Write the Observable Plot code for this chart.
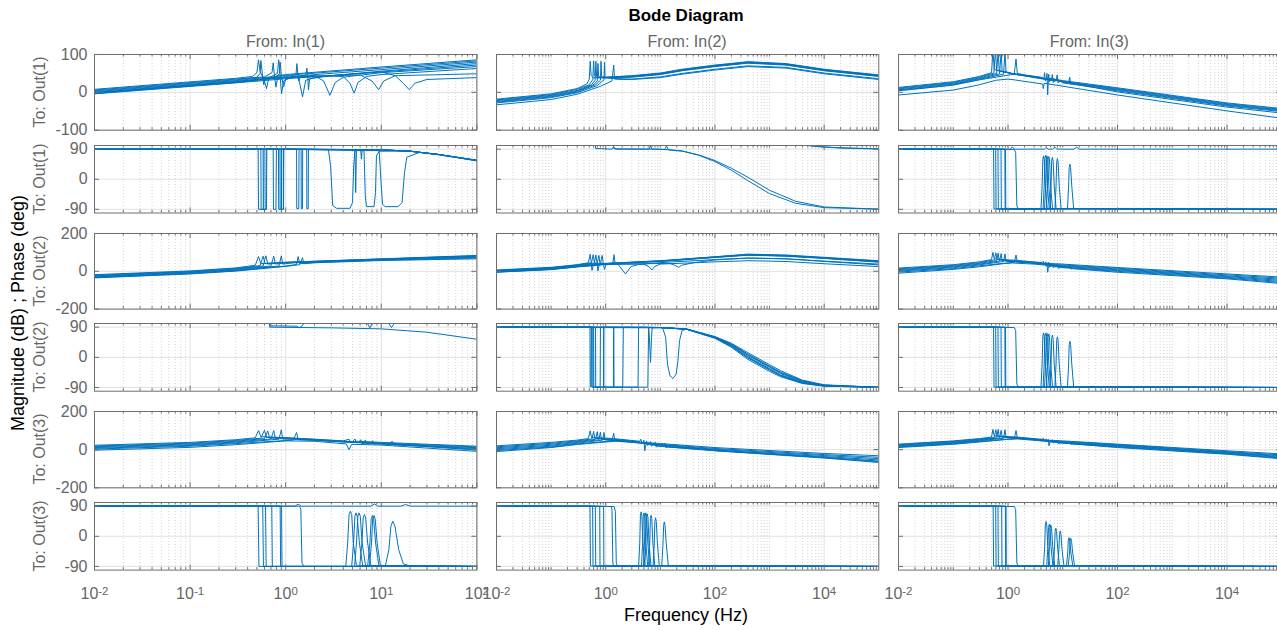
<!DOCTYPE html>
<html><head><meta charset="utf-8">
<script src="https://cdn.jsdelivr.net/npm/d3@7"></script>
<script src="https://cdn.jsdelivr.net/npm/@observablehq/plot@0.6"></script>
<style>
html,body{margin:0;padding:0;background:#fff;overflow:hidden;}
#fig{position:relative;width:1277px;height:630px;overflow:hidden;font-family:"Liberation Sans",Arial,Helvetica,sans-serif;}
.t{position:absolute;white-space:nowrap;line-height:1;}
</style></head><body><div id="fig"></div>
<script>
// ---------- text ----------
const title = "Bode Diagram";
const xLabel = "Frequency  (Hz)";
const yLabel = "Magnitude (dB) ; Phase (deg)";
const colLabels = ["From: In(1)", "From: In(2)", "From: In(3)"];
const rowLabels = ["To: Out(1)", "To: Out(1)", "To: Out(2)", "To: Out(2)", "To: Out(3)", "To: Out(3)"];
// ---------- ticks ----------
const magTicks1 = [-100, 0, 100];
const magTicks = [-200, 0, 200];
const phaseTicks = [-90, 0, 90];
const xTickValues1 = [0.01, 0.1, 1, 10, 100];
const xTickLabels1 = ["10^-2", "10^-1", "10^0", "10^1", "10^2"];
const xTickValues2 = [0.01, 1, 100, 10000];
const xTickLabels2 = ["10^-2", "10^0", "10^2", "10^4"];

// ---------- data: each curve is [f0,v0,f1,v1,...] (Hz, dB or deg) ----------
const mag_1_1 = [
[0.01,8, 0.3,37, 0.45,42, 0.5,52, 0.52,86, 0.54,55, 0.6,30, 0.63,10, 0.66,34, 0.8,43, 1,47, 10,67, 100,86],
[0.01,6, 0.3,35, 0.5,40, 0.54,50, 0.55,84, 0.57,50, 0.59,20, 0.61,38, 1,45, 10,64, 100,83],
[0.01,4, 0.3,33, 0.6,41, 0.72,52, 0.74,78, 0.76,48, 0.79,14, 0.82,36, 1,42, 1.28,46, 1.31,76, 1.34,46, 1.37,30, 1.42,44, 10,60, 100,80],
[0.01,2, 0.3,31, 0.7,41, 0.82,50, 0.845,86, 0.87,50, 0.905,-4, 0.95,30, 1.2,42, 1.62,45, 1.665,64, 1.7,44, 1.73,6, 1.78,36, 3,44, 10,56, 100,76],
[0.01,0, 0.3,29, 0.8,40, 0.86,50, 0.875,80, 0.9,46, 0.95,14, 1,36, 1.35,44, 1.5,-12, 1.62,32, 2.2,42, 10,54, 100,72],
[0.01,-1, 0.3,28, 0.8,39, 2,44, 2.5,30, 2.9,-8, 3.3,26, 4,40, 10,52, 100,68],
[0.01,-2, 0.3,27, 0.8,38, 2,44, 4,42, 4.7,24, 5.2,-2, 5.7,26, 7,42, 10,47, 100,63],
[0.01,-3, 0.3,26, 0.8,37, 2,42, 6,46, 8,30, 9.4,7, 10.6,30, 14,44, 100,49],
[0.01,-4, 0.3,25, 1,36, 3,44, 10,54, 14,44, 17,24, 19.6,7, 22.5,24, 30,34, 100,39]
];
const pha_1_1 = [
[0.01,90, 0.515,90, 0.52,-90, 0.62,-90, 0.625,90, 10,88, 20,84, 40,74, 100,56],
[0.01,90, 0.55,90, 0.553,-90, 0.59,-90, 0.595,90, 10,88, 20,84, 40,74, 100,56],
[0.01,90, 0.74,90, 0.745,-90, 0.79,-90, 0.8,90, 1.3,90, 1.305,-88, 1.37,-88, 1.38,90, 10,88, 20,84, 40,74, 100,57],
[0.01,90, 0.84,90, 0.845,-90, 0.905,-90, 0.91,90, 1.66,90, 1.665,-88, 1.72,-88, 1.73,90, 10,88, 20,84, 40,74, 100,57],
[0.01,90, 0.87,90, 0.875,-90, 0.945,-90, 0.95,90, 2.8,88, 2.95,40, 3.1,-78, 3.4,-87, 4.7,-87, 5.0,-70, 5.15,40, 5.3,86, 10,88, 20,84, 40,74, 100,56],
[0.01,90, 0.58,90, 0.583,-90, 0.63,-90, 0.635,90, 5.3,89, 5.4,-40, 5.5,89, 10,88, 20,84, 40,74, 100,56],
[0.01,90, 0.9,90, 0.903,-90, 0.95,-90, 0.955,90, 6.1,86, 6.2,60, 6.3,86, 6.6,85, 6.8,-50, 7.0,-82, 8.4,-82, 8.7,-40, 8.9,70, 9.5,84, 20,84, 40,74, 100,56],
[0.01,90, 1.45,90, 1.455,-88, 1.5,-88, 1.505,90, 9.5,86, 9.9,0, 10.3,-75, 11,-82, 15,-82, 16.5,-70, 17.5,20, 18.5,66, 25,80, 40,73, 100,55]
];
const mag_1_2 = [
[0.01,-18, 0.1,-4, 0.3,10, 0.45,22, 0.5,35, 0.52,82, 0.54,45, 0.6,38, 1,40, 3,44, 10,51, 25,61, 100,72, 400,81, 2000,76, 10000,61, 100000,46],
[0.01,-20, 0.1,-6, 0.3,8, 0.5,20, 0.58,34, 0.6,83, 0.62,44, 0.7,38, 1,40, 3,43, 10,50, 25,60, 100,71, 400,80, 2000,75, 10000,60, 100000,45],
[0.01,-22, 0.1,-8, 0.3,5, 0.55,20, 0.64,32, 0.66,82, 0.68,42, 0.8,38, 1,39, 3,42, 10,49, 25,59, 100,70, 400,79, 2000,74, 10000,59, 100000,44],
[0.01,-24, 0.1,-10, 0.3,3, 0.6,20, 0.7,30, 0.72,76, 0.74,42, 0.9,38, 3,41, 10,48, 25,58, 100,69, 400,78, 2000,73, 10000,58, 100000,43],
[0.01,-26, 0.1,-12, 0.3,1, 0.65,20, 0.8,32, 0.82,82, 0.84,42, 1,38, 3,40, 10,47, 25,57, 100,68, 400,77, 2000,72, 10000,57, 100000,42],
[0.01,-28, 0.1,-14, 0.3,-1, 0.7,18, 0.93,33, 0.95,80, 0.97,40, 1.2,37, 3,35, 10,41, 25,50, 100,61, 400,70, 2000,66, 10000,51, 100000,36],
[0.01,-33, 0.1,-19, 0.3,-5, 0.8,16, 1.3,30, 1.4,72, 1.45,35, 2,34, 3,34, 10,39, 25,48, 100,59, 400,68, 2000,64, 10000,49, 100000,34]
];
const pha_1_2 = [
[0.01,180, 0.645,180, 0.65,92, 1,91, 1.3,90, 1.4,97, 1.5,90, 6.2,90, 6.6,100, 7,90, 12,89, 13,100, 14,88, 25,84, 50,73, 100,56, 200,33, 400,6, 1000,-33, 3000,-66, 10000,-83, 100000,-89.5],
[0.01,180, 1.35,180, 1.4,92, 1.6,91, 10,90, 25,85, 50,72, 100,53, 200,27, 400,-4, 1000,-43, 3000,-72, 10000,-85, 100000,-89.5],
[0.01,200, 4500,200, 4800,101, 10000,96, 100000,91],
[0.01,200, 5500,200, 6000,100, 20000,93, 100000,90.5]
];
const mag_1_3 = [
[0.01,13, 0.1,28, 0.3,42, 0.5,52, 0.53,110, 0.56,60, 0.8,55, 1.2,50, 4,40, 4.5,36, 4.65,52, 4.8,30, 5.2,38, 10,31, 100,12, 10000,-28, 120000,-44],
[0.01,11, 0.1,26, 0.3,40, 0.55,51, 0.59,110, 0.62,58, 0.9,54, 1.2,49, 4,39, 5.0,35, 5.15,50, 5.3,-7, 5.45,30, 6,37, 10,29, 100,10, 10000,-30, 120000,-46],
[0.01,9, 0.1,24, 0.3,38, 0.62,50, 0.66,110, 0.69,56, 1,52, 1.3,48, 4,38, 5.4,34, 5.55,48, 5.7,28, 6.2,35, 10,28, 100,8, 10000,-32, 120000,-48],
[0.01,7, 0.1,22, 0.3,36, 0.7,49, 0.75,108, 0.78,55, 1.1,50, 4,37, 6.2,32, 6.45,47, 6.7,26, 7.3,33, 10,27, 100,6, 10000,-34, 120000,-50],
[0.01,5, 0.1,20, 0.3,34, 0.83,48, 0.88,106, 0.92,54, 1.3,48, 4,36, 7.6,30, 7.9,46, 8.2,25, 9,30, 10,25, 100,4, 10000,-36, 120000,-52],
[0.01,4, 0.1,19, 0.3,33, 1.3,48, 1.4,88, 1.48,50, 2,46, 5,36, 12.8,26, 13.4,40, 14,22, 15,24, 100,1, 10000,-39, 120000,-56],
[0.01,-7, 0.1,6, 0.3,20, 0.6,32, 1,35, 1.3,33, 4.3,22, 4.4,10, 4.6,24, 100,-7, 10000,-49, 120000,-70]
];
const pha_1_3 = [
[0.01,90, 0.545,90, 0.555,-89, 4.0,-89, 4.2,-20, 4.32,60, 4.45,70, 4.58,60, 4.8,-20, 5.2,-88, 120000,-90],
[0.01,90, 0.595,90, 0.605,-89, 4.37,-89, 4.58,-20, 4.7,62, 4.85,72, 5.0,62, 5.23,-20, 5.66,-88, 120000,-90],
[0.01,90, 0.655,90, 0.665,-89, 4.64,-89, 4.87,-20, 5.0,60, 5.15,70, 5.3,60, 5.56,-20, 6.0,-88, 120000,-90],
[0.01,90, 0.745,90, 0.755,-89, 5.0,-89, 5.25,-20, 5.39,58, 5.56,68, 5.72,58, 6.0,-20, 6.5,-88, 120000,-90],
[0.01,90, 0.875,90, 0.885,-89, 5.82,-89, 6.11,-20, 6.27,55, 6.46,65, 6.66,55, 6.98,-20, 7.55,-88, 120000,-90],
[0.01,90, 1.3,89, 1.38,80, 1.45,-80, 1.55,-89, 7.19,-89, 7.54,-20, 7.74,52, 7.98,62, 8.22,52, 8.61,-20, 9.32,-88, 120000,-90],
[0.01,90, 0.9,90, 0.91,-89, 12.2,-89, 12.8,-20, 13.1,35, 13.5,45, 13.9,35, 14.6,-20, 15.8,-88, 120000,-90],
[0.01,90, 1.1,90, 1.2,97, 1.3,90, 4.6,90, 5,95, 5.4,90, 6.5,90, 7.2,96, 7.8,90, 16,90, 18,96, 20,90, 120000,90]
];
const mag_2_1 = [
[0.01,-18, 0.1,2, 0.3,18, 0.48,32, 0.52,78, 0.55,40, 0.7,44, 1,48, 10,66, 100,84],
[0.01,-21, 0.1,-1, 0.3,15, 0.54,30, 0.58,80, 0.61,40, 0.8,44, 1,47, 10,65, 100,82],
[0.01,-24, 0.1,-4, 0.3,12, 0.58,28, 0.62,82, 0.65,38, 0.8,42, 1,46, 10,64, 100,80],
[0.01,-27, 0.1,-7, 0.3,9, 0.7,28, 0.75,80, 0.78,38, 1,44, 10,62, 100,77],
[0.01,-30, 0.1,-10, 0.3,6, 0.85,28, 0.9,82, 0.93,38, 1.2,45, 10,61, 100,74],
[0.01,-33, 0.1,-12, 0.3,3, 1,28, 1.3,36, 1.35,78, 1.4,40, 2,47, 10,59, 100,70],
[0.01,-35, 0.1,-14, 0.3,1, 1,26, 1.4,35, 1.5,72, 1.55,40, 2,45, 10,57, 100,66]
];
const pha_2_1 = [
[0.01,180, 0.67,180, 0.68,90, 3,88, 10,85, 30,75, 100,54],
[0.01,130, 0.67,130, 0.69,94, 1.3,93, 1.4,88, 1.5,95, 1.7,130, 100,130],
[0.01,130, 6.5,130, 7.2,100, 7.6,88, 8,100, 9,130, 100,130],
[0.01,130, 11,130, 12,100, 12.8,89, 13.6,100, 15,130, 100,130]
];
const mag_2_2 = [
[0.01,7, 0.1,21, 0.3,35, 0.48,45, 0.52,90, 0.54,50, 0.56,5, 0.6,38, 1,42, 10,56, 100,77, 400,91, 2000,86, 10000,74, 100000,56],
[0.01,5, 0.1,19, 0.3,33, 0.55,45, 0.59,88, 0.62,48, 0.68,40, 1,41, 10,55, 100,76, 400,89, 2000,84, 10000,72, 100000,54],
[0.01,3, 0.1,17, 0.3,31, 0.62,44, 0.66,86, 0.69,46, 0.72,2, 0.76,36, 1,40, 10,54, 100,75, 400,87, 2000,82, 10000,70, 100000,52],
[0.01,1, 0.1,15, 0.3,29, 0.7,42, 0.75,84, 0.78,44, 1,40, 10,53, 100,74, 400,86, 2000,81, 10000,69, 100000,50],
[0.01,-1, 0.1,13, 0.3,27, 0.8,40, 0.86,84, 0.9,44, 0.95,10, 1,34, 1.3,38, 10,52, 100,73, 400,85, 2000,80, 10000,68, 100000,48],
[0.01,-3, 0.1,11, 0.3,25, 1,38, 1.35,44, 1.42,88, 1.48,42, 1.7,35, 2.3,-14, 2.9,25, 4,36, 10,46, 100,62, 400,70, 2000,66, 10000,52, 100000,34],
[0.01,-5, 0.1,9, 0.3,23, 1,36, 2,38, 5,38, 6.2,24, 7,7, 7.9,26, 10,38, 100,50, 400,56, 2000,52, 10000,40, 100000,25],
[0.01,-4, 0.1,10, 0.3,24, 1,37, 5,40, 15,42, 19,30, 21.7,21, 24.5,32, 40,45, 100,60, 400,70, 2000,66, 10000,54, 100000,38]
];
const pha_2_2 = [
[0.01,90, 0.515,90, 0.52,-88, 0.54,-88, 0.545,90, 10,89, 30,85, 100,62, 200,42, 400,14, 1000,-22, 1600,-40, 4000,-68, 10000,-82, 100000,-89.5],
[0.01,90, 0.555,90, 0.56,-89, 0.91,-89, 0.92,90, 10,89, 30,85, 100,61, 200,40, 400,10, 1000,-26, 1600,-44, 4000,-70, 10000,-83, 100000,-89.5],
[0.01,90, 0.58,90, 0.585,-89, 0.79,-89, 0.8,90, 10,89, 30,84, 100,60, 200,37, 400,6, 1000,-30, 1600,-48, 4000,-73, 10000,-84, 100000,-89.5],
[0.01,90, 0.65,90, 0.655,-89, 2.05,-89, 2.1,90, 10,89, 30,84, 100,59, 200,35, 400,2, 1000,-34, 1600,-52, 4000,-75, 10000,-85, 100000,-89.5],
[0.01,90, 0.92,90, 0.925,-89, 1.38,-89, 1.4,90, 10,89, 30,84, 100,58, 200,33, 400,-2, 1000,-38, 1600,-55, 4000,-77, 10000,-86, 100000,-89.5],
[0.01,90, 1.4,90, 1.42,-89, 3.9,-89, 4.0,90, 10,89, 30,84, 100,57, 200,30, 400,-6, 1000,-42, 1600,-58, 4000,-78, 10000,-86, 100000,-89.5],
[0.01,90, 0.6,90, 0.605,-89, 5.9,-89, 6.1,90, 6.3,60, 6.6,-15, 6.9,60, 7.1,88, 10,89, 30,84, 100,58, 200,33, 400,0, 1000,-36, 1600,-54, 4000,-76, 10000,-85, 100000,-89.5],
[0.01,90, 11,88, 12.5,60, 13.5,-20, 15,-55, 17,-63, 19.5,-50, 21,-10, 22.5,50, 25,80, 30,84, 100,60, 200,38, 400,8, 1000,-28, 1600,-46, 4000,-71, 10000,-83, 100000,-89.5]
];
const mag_2_3 = [
[0.01,17, 0.1,35, 0.3,50, 0.5,62, 0.53,100, 0.56,66, 0.8,62, 1.4,58, 4.2,46, 4.4,53, 4.6,36, 5,42, 10,38, 100,20, 10000,-14, 120000,-32],
[0.01,13, 0.1,31, 0.3,46, 0.56,60, 0.6,98, 0.63,63, 1,58, 2,52, 4.7,42, 4.85,50, 5.0,26, 5.3,36, 10,34, 100,16, 10000,-19, 120000,-38],
[0.01,9, 0.1,27, 0.3,42, 0.62,57, 0.66,96, 0.69,60, 1,56, 2,50, 5.0,38, 5.15,46, 5.3,-5, 5.5,26, 6,32, 10,30, 100,12, 10000,-24, 120000,-44],
[0.01,5, 0.1,23, 0.3,38, 0.7,54, 0.75,94, 0.78,56, 1.1,52, 2,48, 5.4,36, 5.56,48, 5.75,22, 6.2,28, 10,26, 100,8, 10000,-28, 120000,-50],
[0.01,1, 0.1,19, 0.3,34, 0.83,52, 0.88,92, 0.92,54, 1.3,50, 3,44, 6.3,32, 6.46,44, 6.7,20, 7.2,24, 10,22, 100,4, 10000,-32, 120000,-56],
[0.01,-4, 0.1,14, 0.3,29, 1.3,48, 1.4,86, 1.48,50, 2,46, 5,38, 7.7,28, 7.98,40, 8.3,16, 9,20, 100,0, 10000,-36, 120000,-62],
[0.01,-10, 0.1,10, 0.3,24, 0.8,40, 1.2,44, 3,38, 12.8,22, 13.4,34, 14,12, 15,14, 100,-5, 10000,-40, 120000,-67]
];
const pha_2_3 = [
[0.01,90, 0.545,90, 0.555,-89, 4.0,-89, 4.2,-20, 4.32,63, 4.45,73, 4.58,63, 4.8,-20, 5.2,-88, 120000,-90],
[0.01,90, 0.595,90, 0.605,-89, 4.64,-89, 4.87,-20, 5.0,62, 5.15,72, 5.3,62, 5.56,-20, 6.0,-88, 120000,-90],
[0.01,90, 0.655,90, 0.665,-89, 5.0,-89, 5.25,-20, 5.39,60, 5.56,70, 5.72,60, 6.0,-20, 6.5,-88, 120000,-90],
[0.01,90, 0.745,90, 0.755,-89, 5.82,-89, 6.11,-20, 6.27,56, 6.46,66, 6.66,56, 6.98,-20, 7.55,-88, 120000,-90],
[0.01,90, 0.875,90, 0.885,-89, 7.19,-89, 7.54,-20, 7.74,51, 7.98,61, 8.22,51, 8.61,-20, 9.32,-88, 120000,-90],
[0.01,90, 1.3,89, 1.38,80, 1.45,-80, 1.55,-89, 12.2,-89, 12.8,-20, 13.1,38, 13.5,48, 13.9,38, 14.6,-20, 15.8,-88, 120000,-90],
[0.01,90, 0.9,90, 0.91,-89, 4.37,-89, 4.58,-20, 4.7,62, 4.85,72, 5.0,62, 5.23,-20, 5.66,-88, 120000,-90]
];
const mag_3_1 = [
[0.01,23, 0.1,38, 0.3,52, 0.48,62, 0.52,100, 0.55,68, 0.8,65, 1.5,58, 4,46, 4.6,55, 4.8,38, 5.5,44, 10,38, 100,18],
[0.01,19, 0.1,34, 0.3,48, 0.55,60, 0.6,102, 0.63,64, 1,62, 2,54, 5,42, 5.3,56, 5.5,36, 6,40, 10,35, 100,14],
[0.01,15, 0.1,30, 0.3,44, 0.6,58, 0.65,98, 0.68,60, 1,60, 2,52, 5.8,38, 6.1,52, 6.3,32, 7,36, 10,32, 100,10],
[0.01,11, 0.1,26, 0.3,40, 0.7,56, 0.75,100, 0.78,58, 1.2,56, 3,46, 6.5,36, 6.8,50, 7.1,30, 8,33, 10,30, 100,6],
[0.01,7, 0.1,22, 0.3,36, 0.85,55, 0.9,104, 0.93,56, 1.3,54, 3,44, 7.8,34, 8.1,47, 8.4,28, 9,31, 100,2],
[0.01,3, 0.1,18, 0.3,32, 1.2,50, 1.3,90, 1.35,52, 2,50, 4,40, 12,30, 13,44, 13.6,24, 15,26, 100,-2],
[0.01,-3, 0.1,12, 0.3,26, 1,46, 2,44, 4.3,30, 4.6,0, 4.9,28, 10,24, 100,-9]
];
const pha_3_1 = [
[0.01,90, 0.515,90, 0.525,-90, 4.25,-90, 4.45,-20, 4.6,65, 4.75,75, 4.9,65, 5.1,-20, 5.5,-88, 100,-90],
[0.01,90, 0.575,90, 0.585,-90, 4.9,-90, 5.13,-20, 5.3,60, 5.45,70, 5.6,60, 5.9,-20, 6.4,-88, 100,-90],
[0.01,90, 0.615,90, 0.625,-90, 5.25,-90, 5.5,-20, 5.68,60, 5.85,70, 6.03,60, 6.3,-20, 6.85,-88, 100,-90],
[0.01,90, 0.715,90, 0.725,-90, 5.95,-90, 6.27,-20, 6.47,55, 6.67,65, 6.86,55, 7.2,-20, 7.8,-88, 100,-90],
[0.01,90, 0.875,90, 0.885,-90, 7.2,-90, 7.6,-20, 7.84,52, 8.08,62, 8.32,52, 8.72,-20, 9.45,-88, 100,-90],
[0.01,90, 0.905,90, 0.915,-90, 7.5,-90, 7.9,-20, 8.13,52, 8.38,62, 8.63,52, 9.05,-20, 9.8,-88, 100,-90],
[0.01,90, 1.4,90, 1.44,80, 1.48,-80, 1.55,-90, 11,-90, 12,-40, 12.6,30, 13.2,45, 13.9,30, 15.2,-40, 17,-82, 20,-89, 100,-90],
[0.01,90, 1.25,90, 1.35,96, 1.45,90, 7.8,90, 8.5,97, 9.2,90, 16,90, 18,95, 20,90, 100,90]
];
const mag_3_2 = [
[0.01,20, 0.1,38, 0.3,50, 0.48,58, 0.52,99, 0.55,63, 0.8,62, 1.4,58, 4.2,44, 4.4,55, 4.6,30, 5,38, 10,32, 100,11, 10000,-20, 100000,-32],
[0.01,15, 0.1,33, 0.3,46, 0.56,56, 0.6,96, 0.63,60, 1,57, 2,51, 4.8,38, 5.0,50, 5.2,-6, 5.4,26, 6,32, 10,28, 100,6, 10000,-26, 100000,-40],
[0.01,10, 0.1,28, 0.3,42, 0.65,54, 0.7,94, 0.73,57, 1.1,53, 2,48, 5.4,34, 5.6,46, 5.8,22, 6.3,28, 10,24, 100,2, 10000,-31, 100000,-47],
[0.01,5, 0.1,23, 0.3,38, 0.75,52, 0.8,92, 0.83,54, 1.2,50, 3,42, 6.4,30, 6.6,42, 6.8,18, 7.3,24, 10,20, 100,-2, 10000,-36, 100000,-54],
[0.01,0, 0.1,18, 0.3,34, 0.88,50, 0.93,90, 0.97,52, 1.3,48, 3,40, 7.8,26, 8.1,38, 8.4,14, 9,18, 100,-4, 10000,-40, 100000,-60],
[0.01,-5, 0.1,14, 0.3,30, 1.3,46, 1.4,86, 1.47,48, 2,45, 5,36, 11.5,22, 12,34, 12.6,10, 13.5,14, 100,-6, 10000,-44, 100000,-67],
[0.01,-10, 0.1,11, 0.3,27, 1,40, 1.5,44, 3,38, 13,24, 100,-5, 10000,-42, 100000,-64]
];
const pha_3_2 = [
[0.01,90, 0.515,90, 0.525,-89, 4.0,-89, 4.2,-20, 4.32,63, 4.45,73, 4.58,63, 4.8,-20, 5.2,-88, 100000,-90],
[0.01,90, 0.575,90, 0.585,-89, 4.52,-89, 4.74,-20, 4.87,60, 5.02,70, 5.17,60, 5.42,-20, 5.86,-88, 100000,-90],
[0.01,90, 0.645,90, 0.655,-89, 5.19,-89, 5.44,-20, 5.59,57, 5.76,67, 5.93,57, 6.21,-20, 6.73,-88, 100000,-90],
[0.01,90, 0.775,90, 0.785,-89, 6.1,-89, 6.4,-20, 6.57,53, 6.77,63, 6.97,53, 7.3,-20, 7.9,-88, 100000,-90],
[0.01,90, 0.915,90, 0.925,-89, 7.37,-89, 7.74,-20, 7.94,45, 8.18,55, 8.42,45, 8.83,-20, 9.56,-88, 100000,-90],
[0.01,90, 1.25,89, 1.3,80, 1.35,-80, 1.4,-89, 10.6,-89, 11.2,-20, 11.5,33, 11.8,43, 12.2,33, 12.8,-20, 14,-88, 100000,-90],
[0.01,90, 1.42,89, 1.5,75, 1.56,-80, 1.65,-89, 4.9,-89, 5.13,-20, 5.27,60, 5.43,70, 5.6,60, 5.9,-20, 6.35,-88, 100000,-90]
];
const mag_3_3 = [
[0.01,29, 0.1,46, 0.3,58, 0.5,66, 0.53,106, 0.56,72, 0.8,70, 1.4,66, 4.2,54, 4.4,60, 4.6,46, 5,50, 10,46, 100,29, 10000,-6, 120000,-24],
[0.01,26, 0.1,43, 0.3,55, 0.56,64, 0.6,104, 0.63,70, 1,66, 2,61, 4.8,50, 4.95,56, 5.1,42, 5.4,46, 10,43, 100,26, 10000,-10, 120000,-29],
[0.01,23, 0.1,40, 0.3,52, 0.62,62, 0.66,106, 0.69,68, 1,64, 2,59, 5.3,48, 5.45,54, 5.6,20, 5.8,38, 6.3,42, 10,40, 100,23, 10000,-13, 120000,-34],
[0.01,20, 0.1,37, 0.3,49, 0.7,61, 0.75,102, 0.78,66, 1.1,62, 2,57, 6.3,44, 6.46,52, 6.65,36, 7.2,39, 10,37, 100,20, 10000,-16, 120000,-38],
[0.01,17, 0.1,34, 0.3,46, 0.83,60, 0.88,104, 0.92,64, 1.3,60, 3,52, 7.7,40, 7.98,48, 8.25,32, 9,35, 100,17, 10000,-19, 120000,-42],
[0.01,14, 0.1,31, 0.3,43, 1.3,58, 1.4,100, 1.48,62, 2,59, 5,48, 12.8,34, 13.4,42, 14,28, 15,30, 100,14, 10000,-22, 120000,-46],
[0.01,11, 0.1,28, 0.3,40, 1,54, 1.5,56, 4,46, 13,32, 100,11, 10000,-24, 120000,-50]
];
const pha_3_3 = [
[0.01,90, 0.535,90, 0.545,-89, 4.45,-89, 4.68,-30, 4.8,34, 4.95,44, 5.1,34, 5.34,-30, 5.8,-88, 120000,-90],
[0.01,90, 0.595,90, 0.605,-89, 5.1,-89, 5.35,-30, 5.49,26, 5.66,36, 5.82,26, 6.1,-30, 6.6,-88, 120000,-90],
[0.01,90, 0.655,90, 0.665,-89, 5.46,-89, 5.73,-30, 5.88,24, 6.06,34, 6.24,24, 6.54,-30, 7.1,-88, 120000,-90],
[0.01,90, 0.765,90, 0.775,-89, 6.73,-89, 7.07,-35, 7.25,14, 7.47,24, 7.7,14, 8.07,-35, 8.7,-88, 120000,-90],
[0.01,90, 0.895,90, 0.905,-89, 8.1,-89, 8.5,-40, 8.72,6, 8.99,16, 9.26,6, 9.7,-40, 10.5,-88, 120000,-90],
[0.01,90, 1.3,89, 1.38,80, 1.45,-80, 1.55,-89, 11.7,-89, 12.3,-50, 12.6,-14, 13.0,-4, 13.4,-14, 14.1,-50, 15.2,-88, 120000,-90],
[0.01,90, 0.92,90, 0.93,-89, 12.6,-89, 13.3,-50, 13.6,-16, 14.0,-6, 14.5,-16, 15.2,-50, 16.4,-88, 120000,-90]
];

// ---------- layout ----------
const cols = [
  {l: 94.3, r: 476.7, dom: [0.01, 100], ticks: xTickValues1, labels: xTickLabels1},
  {l: 496, r: 878.3, dom: [0.01, 100000], ticks: xTickValues2, labels: xTickLabels2},
  {l: 897.7, r: 1281, dom: [0.01, 100000], ticks: xTickValues2, labels: xTickLabels2}
];
const rows = [
  {t: 54.3, b: 130, dom: [-100, 100], ticks: magTicks1},
  {t: 145, b: 212.5, dom: [-101, 101], ticks: phaseTicks},
  {t: 232.7, b: 308.3, dom: [-200, 200], ticks: magTicks},
  {t: 323.3, b: 391, dom: [-101, 101], ticks: phaseTicks},
  {t: 410.7, b: 487, dom: [-200, 200], ticks: magTicks},
  {t: 501.7, b: 569.3, dom: [-101, 101], ticks: phaseTicks}
];
const grid = [
  [mag_1_1, mag_1_2, mag_1_3],
  [pha_1_1, pha_1_2, pha_1_3],
  [mag_2_1, mag_2_2, mag_2_3],
  [pha_2_1, pha_2_2, pha_2_3],
  [mag_3_1, mag_3_2, mag_3_3],
  [pha_3_1, pha_3_2, pha_3_3]
];

const fig = document.getElementById("fig");
const M = {l: 60, r: 14, t: 8, b: 44};
const AX = "#6e6e6e", LINE = "#0072BD";

function toRows(curves) {
  const out = [];
  curves.forEach((c, i) => { for (let k = 0; k < c.length; k += 2) out.push({f: c[k], v: c[k + 1], id: i}); });
  return out;
}
function logTicks(dom, majors) {
  const res = [];
  const e0 = Math.round(Math.log10(dom[0])), e1 = Math.round(Math.log10(dom[1]));
  for (let e = e0; e <= e1; e++) {
    const d = Math.pow(10, e);
    if (e > e0 && e < e1 && !majors.some(m => Math.abs(m / d - 1) < 1e-6)) res.push(d);
    if (e < e1) for (let m = 2; m <= 9; m++) res.push(m * d);
  }
  return res;
}

rows.forEach((row, ri) => {
  cols.forEach((col, ci) => {
    const W = col.r - col.l, H = row.b - row.t;
    const minors = logTicks(col.dom, col.ticks);
    const labelMap = new Map(col.ticks.map((v, i) => [v, col.labels[i]]));
    const marks = [
      Plot.ruleX(minors, {stroke: "#c9c9c9", strokeDasharray: "1,2", strokeWidth: 0.8}),
      Plot.ruleX(col.ticks, {stroke: "#e1e1e1"}),
      Plot.ruleY(row.ticks, {stroke: "#e1e1e1"}),
      Plot.line(toRows(grid[ri][ci]), {x: "f", y: "v", z: "id", stroke: LINE, strokeWidth: 1, clip: true}),
      Plot.frame({stroke: AX}),
      Plot.ruleX(col.ticks, {stroke: AX, insetTop: H - 5}),
      Plot.ruleX(col.ticks, {stroke: AX, insetBottom: H - 5}),
      Plot.ruleX(minors, {stroke: AX, insetTop: H - 2.5}),
      Plot.ruleX(minors, {stroke: AX, insetBottom: H - 2.5}),
      Plot.ruleY(row.ticks, {stroke: AX, insetRight: W - 5}),
      Plot.ruleY(row.ticks, {stroke: AX, insetLeft: W - 5})
    ];
    const hasY = ci === 0, hasX = ri === rows.length - 1;
    if (hasY) marks.push(Plot.axisY({ticks: row.ticks, tickSize: 0, tickPadding: 7, tickFormat: d => String(d), fontSize: 16, label: null}));
    if (hasX) marks.push(Plot.axisX({ticks: col.ticks, tickSize: 0, tickPadding: 18, tickFormat: d => labelMap.get(d), fontSize: 16, label: null}));
    const svg = Plot.plot({
      width: W + M.l + M.r, height: H + M.t + M.b,
      marginLeft: M.l, marginRight: M.r, marginTop: M.t, marginBottom: M.b,
      x: hasX ? {type: "log", domain: col.dom, label: null} : {type: "log", domain: col.dom, axis: null, label: null},
      y: hasY ? {domain: row.dom, label: null} : {domain: row.dom, axis: null, label: null},
      style: {background: "transparent", overflow: "visible", color: "#666", fontFamily: '"Liberation Sans", Arial, sans-serif', fontSize: "16px", maxWidth: "none"},
      marks
    });
    d3.select(svg).selectAll("text").each(function () {
      const s = this.textContent;
      if (s && s.indexOf("^") >= 0) {
        const [b, e] = s.split("^");
        const t = d3.select(this);
        t.text(null);
        t.append("tspan").text(b);
        t.append("tspan").attr("dy", "-0.42em").attr("font-size", "11.5px").text(e);
      }
    });
    const div = document.createElement("div");
    div.style.position = "absolute";
    div.style.left = (col.l - M.l) + "px";
    div.style.top = (row.t - M.t) + "px";
    div.style.width = (W + M.l + M.r) + "px";
    div.appendChild(svg);
    fig.appendChild(div);
  });
});

// ---------- labels ----------
function addText(txt, x, y, css, rot) {
  const d = document.createElement("div");
  d.className = "t";
  d.textContent = txt;
  Object.assign(d.style, css);
  d.style.left = x + "px";
  d.style.top = y + "px";
  d.style.transform = "translate(-50%,-50%)" + (rot ? " rotate(-90deg)" : "");
  fig.appendChild(d);
}
addText(title, 686, 15, {fontSize: "17px", fontWeight: "bold", color: "#000"});
addText(xLabel, 686, 615, {fontSize: "18px", color: "#000"});
addText(yLabel, 18, 313, {fontSize: "18px", color: "#000"}, true);
colLabels.forEach((s, i) => addText(s, (cols[i].l + cols[i].r) / 2, 42, {fontSize: "16px", color: "#666"}));
rowLabels.forEach((s, i) => addText(s, 40, (rows[i].t + rows[i].b) / 2, {fontSize: "16px", color: "#666"}, true));
</script></body></html>
